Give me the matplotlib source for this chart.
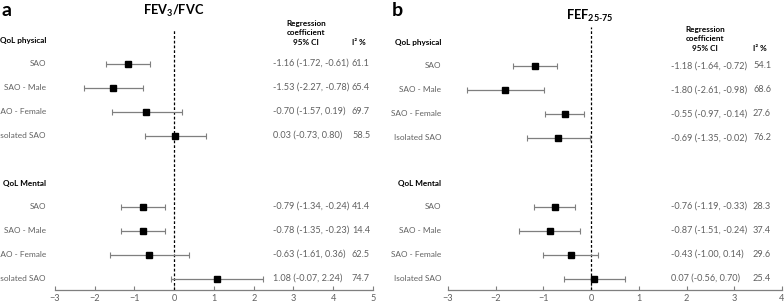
import numpy as np
import matplotlib
matplotlib.use("Agg")
import matplotlib.pyplot as plt
from matplotlib.transforms import blended_transform_factory

plt.rcParams['font.family'] = ['Lato', 'DejaVu Sans']
plt.rcParams['mathtext.fontset'] = 'custom'
plt.rcParams['mathtext.rm'] = 'Lato'
plt.rcParams['mathtext.bf'] = 'Lato:bold'

# ---- data ----
row_labels = ["SAO", "SAO - Male", "SAO - Female", "Isolated SAO"]
groups = ["QoL physical", "QoL Mental"]

# panel a: FEV3/FVC
a_phys_est = [-1.16, -1.53, -0.70, 0.03]
a_phys_lo = [-1.72, -2.27, -1.57, -0.73]
a_phys_hi = [-0.61, -0.78, 0.19, 0.80]
a_phys_i2 = [61.1, 65.4, 69.7, 58.5]
a_ment_est = [-0.79, -0.78, -0.63, 1.08]
a_ment_lo = [-1.34, -1.35, -1.61, -0.07]
a_ment_hi = [-0.24, -0.23, 0.36, 2.24]
a_ment_i2 = [41.4, 14.4, 62.5, 74.7]
a_ticks = [-3, -2, -1, 0, 1, 2, 3, 4, 5]

# panel b: FEF25-75
b_phys_est = [-1.18, -1.80, -0.55, -0.69]
b_phys_lo = [-1.64, -2.61, -0.97, -1.35]
b_phys_hi = [-0.72, -0.98, -0.14, -0.02]
b_phys_i2 = [54.1, 68.6, 27.6, 76.2]
b_ment_est = [-0.76, -0.87, -0.43, 0.07]
b_ment_lo = [-1.19, -1.51, -1.00, -0.56]
b_ment_hi = [-0.33, -0.24, 0.14, 0.70]
b_ment_i2 = [28.3, 37.4, 29.6, 25.4]
b_ticks = [-3, -2, -1, 0, 1, 2, 3, 4]

W, H = 784, 304
fig = plt.figure(figsize=(W / 100, H / 100), dpi=100)

GRAY = '#7f7f7f'
TXT = '#606060'
FS = 6.6      # numbers
FS_LAB = 5.95  # row labels
FS_HEAD = 5.9  # bold headers

# row positions in pixel rows (axes y data = pixel row from top)
AXIS_Y = 290
ROW_STEP = 24.0


def panel(x0, x1, ticks, phys, ment, phys_top, label_x, ci_x, i2_x, head_x,
          head_y, letter, letter_x, title, title_x, title_y, dash_top):
    ax = fig.add_axes([x0 / W, (H - AXIS_Y) / H, (x1 - x0) / W, AXIS_Y / H])
    ax.set_xlim(ticks[0], ticks[-1])
    ax.set_ylim(AXIS_Y, 0)
    ax.patch.set_alpha(0)
    for s in ['top', 'right', 'left']:
        ax.spines[s].set_visible(False)
    ax.spines['bottom'].set_color(GRAY)
    ax.spines['bottom'].set_linewidth(0.9)
    ax.set_yticks([])
    ax.set_xticks(ticks)
    ax.tick_params(axis='x', direction='in', length=3, width=0.8, color=GRAY,
                   labelcolor=TXT, labelsize=FS, pad=3)

    ax.axvline(0, ymin=0, ymax=(AXIS_Y - dash_top) / AXIS_Y, color='black',
               lw=0.9, ls=(0, (2.2, 1.6)))

    phys_y = phys_top + ROW_STEP * np.arange(len(row_labels))
    ment_y = 206.5 + ROW_STEP * np.arange(len(row_labels))

    tr = blended_transform_factory(fig.transFigure, ax.transData)
    for g, (est, lo, hi, i2), ys in zip(groups, [phys, ment], [phys_y, ment_y]):
        est = np.array(est)
        err = np.vstack([est - np.array(lo), np.array(hi) - est])
        ax.errorbar(est, ys, xerr=err, fmt='s', color='black', ms=5,
                    ecolor=GRAY, elinewidth=0.9, capsize=2.2, capthick=0.8)
        ax.text(label_x / W, ys[0] - 23, g, transform=tr, ha='right',
                va='center', fontsize=FS_HEAD, fontweight='bold', color='black')
        for y, lab, e, l, h, v in zip(ys, row_labels, est, lo, hi, i2):
            ax.text(label_x / W, y, lab, transform=tr, ha='right',
                    va='center', fontsize=FS_LAB, color=TXT)
            ax.text(ci_x / W, y, f"{e:.2f} ({l:.2f}, {h:.2f})", transform=tr,
                    ha='left', va='center', fontsize=FS, color=TXT)
            ax.text(i2_x / W, y, f"{v:.1f}", transform=tr, ha='left',
                    va='center', fontsize=FS, color=TXT)

    ax.text(head_x / W, head_y, "Regression\ncoefficient\n95% CI", transform=tr,
            ha='center', va='bottom', fontsize=FS_HEAD, fontweight='bold',
            color='black', linespacing=1.45)
    ax.text(i2_x / W, head_y, "I\u00b2 %", transform=tr, ha='left',
            va='bottom', fontsize=FS_HEAD, fontweight='bold', color='black')
    fig.text(letter_x / W, 1 - 11 / H, letter, ha='left', va='center',
             fontsize=14, fontweight='bold')
    fig.text(title_x / W, 1 - title_y / H, title, ha='center', va='center',
             fontsize=9.2)
    return ax


panel(55, 373, a_ticks,
      (a_phys_est, a_phys_lo, a_phys_hi, a_phys_i2),
      (a_ment_est, a_ment_lo, a_ment_hi, a_ment_i2), phys_top=63.5,
      label_x=46, ci_x=273, i2_x=352, head_x=306, head_y=46,
      letter='a', letter_x=1, title=r"$\mathbf{FEV_3/FVC}$", title_x=174,
      title_y=11, dash_top=30)

panel(448, 782, b_ticks,
      (b_phys_est, b_phys_lo, b_phys_hi, b_phys_i2),
      (b_ment_est, b_ment_lo, b_ment_hi, b_ment_i2), phys_top=66,
      label_x=441, ci_x=671, i2_x=753, head_x=705, head_y=52,
      letter='b', letter_x=392, title=r"$\mathbf{FEF_{25\text{-}75}}$",
      title_x=590, title_y=16, dash_top=27)

fig.savefig("out.png", dpi=100)
